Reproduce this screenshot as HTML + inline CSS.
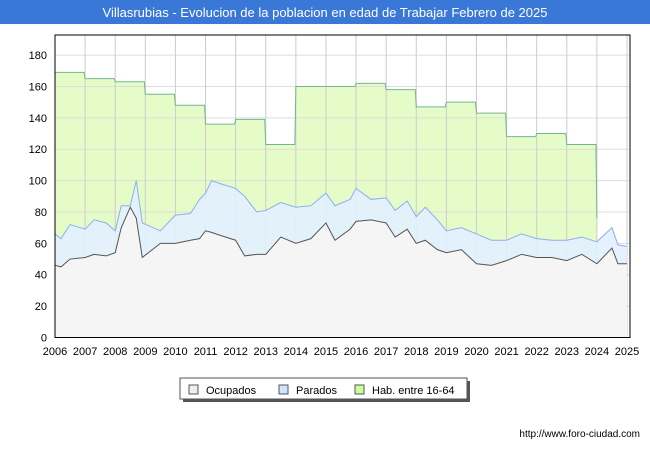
<!DOCTYPE html>
<html><head><meta charset="utf-8"><style>
body{margin:0;width:650px;height:450px;background:#fff;font-family:"Liberation Sans","DejaVu Sans",sans-serif;overflow:hidden}
svg text{font-family:"Liberation Sans","DejaVu Sans",sans-serif}
</style></head><body>
<svg width="650" height="450" xmlns="http://www.w3.org/2000/svg">
<rect x="0" y="0" width="650" height="24" fill="#3a78d8"/>
<text x="325" y="17" text-anchor="middle" font-size="13" fill="#fff">Villasrubias - Evolucion de la poblacion en edad de Trabajar Febrero de 2025</text>
<g id="plot"></g>
<rect x="55" y="35" width="575" height="302.5" fill="none" stroke="#000" stroke-width="1"/>
<g>
<rect x="183" y="381" width="287" height="21" fill="#555"/>
<rect x="180" y="378" width="287" height="21" fill="#fff" stroke="#555"/>
<rect x="189" y="385" width="9" height="9" fill="#eee" stroke="#555"/>
<text x="206" y="394" font-size="11">Ocupados</text>
<rect x="279" y="385" width="9" height="9" fill="#cce4ff" stroke="#555"/>
<text x="296" y="394" font-size="11">Parados</text>
<rect x="355" y="385" width="9" height="9" fill="#ccff99" stroke="#555"/>
<text x="372" y="394" font-size="11">Hab. entre 16-64</text>
</g>
<text x="640" y="437" text-anchor="end" font-size="10" fill="#000">http://www.foro-ciudad.com</text>
</svg>
<script>
const yTicks=[0,20,40,60,80,100,120,140,160,180];
const xYears=[2006,2007,2008,2009,2010,2011,2012,2013,2014,2015,2016,2017,2018,2019,2020,2021,2022,2023,2024,2025];
const habYears=[2006,2007,2008,2009,2010,2011,2012,2013,2014,2015,2016,2017,2018,2019,2020,2021,2022,2023];
const habValues=[169,165,163,155,148,136,139,123,160,160,162,158,147,150,143,128,130,123];
const tYears=[2006,2006.2,2006.5,2007,2007.3,2007.7,2008,2008.2,2008.5,2008.7,2008.9,2009.5,2010,2010.5,2010.8,2011,2011.2,2011.5,2012,2012.3,2012.7,2013,2013.5,2014,2014.5,2015,2015.3,2015.8,2016,2016.5,2017,2017.3,2017.7,2018,2018.3,2018.7,2019,2019.5,2020,2020.5,2021,2021.5,2022,2022.5,2023,2023.5,2024,2024.5,2024.7,2025];
const ocupados=[46,45,50,51,53,52,54,70,83,76,51,60,60,62,63,68,67,65,62,52,53,53,64,60,63,73,62,69,74,75,73,64,69,60,62,56,54,56,47,46,49,53,51,51,49,53,47,57,47,47];
const parados=[20,18,22,18,22,21,14,14,1,24,22,8,18,17,25,24,33,33,33,38,27,28,22,23,21,19,22,19,21,13,16,17,18,17,21,19,14,14,19,16,13,13,12,11,13,11,14,13,12,11];
const X0=55,X1=627,Y0=337.5,YS=1.569;
function sx(v){return X0+(v-2006)*(X1-X0)/19;}
function sy(v){return Y0-v*YS;}
const NS="http://www.w3.org/2000/svg";
const plotG=document.getElementById('plot');
function mk(t,a){const e=document.createElementNS(NS,t);for(const k in a)e.setAttribute(k,a[k]);plotG.appendChild(e);return e;}
let habLine=`M${sx(2006)},${sy(habValues[0])}`;
habYears.forEach((yr,i)=>{habLine+=` L${sx(yr)},${sy(habValues[i])} L${sx(yr+1)-1},${sy(habValues[i])}`;});
const lastHab=habYears[habYears.length-1]+1;
habLine+=` L${sx(lastHab)},${sy(76)}`;
const habArea=habLine+` L${sx(lastHab)},${Y0} L${sx(2006)},${Y0} Z`;
const ha=mk('path',{d:habArea,fill:'#e6fcc8',stroke:'none'});


yTicks.forEach(t=>{const l=mk('line',{x1:X0,x2:630,y1:sy(t),y2:sy(t),stroke:'#ddd'});


const tx=mk('text',{x:47,y:sy(t)+4,'text-anchor':'end','font-size':11});tx.textContent=t;

});
xYears.forEach(yr=>{const l=mk('line',{x1:sx(yr),x2:sx(yr),y1:35,y2:Y0,stroke:'#ccc'});


const tx=mk('text',{x:sx(yr),y:355,'text-anchor':'middle','font-size':11});tx.textContent=yr;

});
const hln=mk('path',{d:habLine,fill:'none',stroke:'#70b890','stroke-width':1});


const topPts=tYears.map((t,i)=>`${sx(t)},${sy(ocupados[i]+parados[i])}`);
const botPts=tYears.map((t,i)=>`${sx(t)},${sy(ocupados[i])}`);
const pa=mk('path',{d:'M'+topPts.join(' L')+' L'+botPts.slice().reverse().join(' L')+' Z',fill:'#e2f0ff','fill-opacity':0.9});


const pl=mk('path',{d:'M'+topPts.join(' L'),fill:'none',stroke:'#8ab0ee','stroke-width':1});


const oa=mk('path',{d:'M'+botPts.join(' L')+` L${sx(2025)},${Y0} L${sx(2006)},${Y0} Z`,fill:'#f5f5f5'});


const ol=mk('path',{d:'M'+botPts.join(' L'),fill:'none',stroke:'#555','stroke-width':1});


</script>
</body></html>
